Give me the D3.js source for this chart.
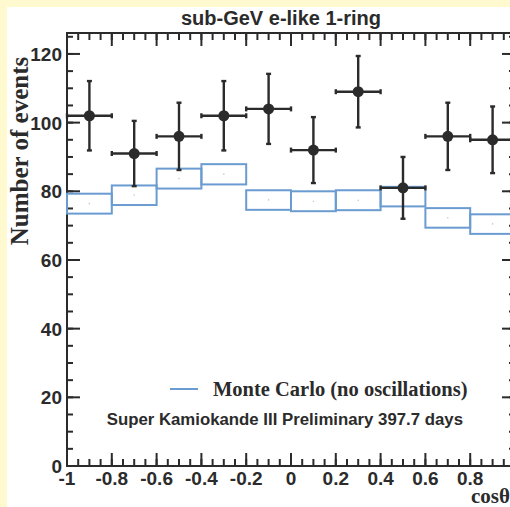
<!DOCTYPE html>
<html>
<head>
<meta charset="utf-8">
<script src="https://cdn.jsdelivr.net/npm/d3@7"></script>
<style>
  html, body { margin: 0; padding: 0; background: #fef9cf; }
  svg { display: block; }
</style>
</head>
<body>
<svg id="chart" width="510" height="507"></svg>
<script>
// bin edges in cos(theta)
var binEdges = [-1, -0.8, -0.6, -0.4, -0.2, 0, 0.2, 0.4, 0.6, 0.8, 1];
// observed events and their errors
var dataCounts = [102, 91, 96, 102, 104, 92, 109, 81, 96, 95];
var dataErrors = [10.1, 9.5, 9.8, 10.1, 10.2, 9.6, 10.4, 9.0, 9.8, 9.7];
// monte carlo band (no oscillations)
var mcUpper = [79.3, 81.7, 86.6, 87.9, 80.3, 80.0, 80.3, 81.3, 75.1, 73.3];
var mcLower = [73.5, 76.0, 80.8, 82.0, 74.6, 74.2, 74.5, 75.6, 69.4, 67.6];
var mcCentral = [76.4, 78.9, 83.7, 85.0, 77.5, 77.1, 77.4, 78.5, 72.3, 70.5];
// tick labels
var xTicks = [-1, -0.8, -0.6, -0.4, -0.2, 0, 0.2, 0.4, 0.6, 0.8, 1];
var yTicks = [0, 20, 40, 60, 80, 100, 120];

(function () {
    "use strict";

    var svg = d3.select("#chart");

    // white pad
    svg.append("rect")
        .attr("x", 7).attr("y", 7)
        .attr("width", 520).attr("height", 520)
        .attr("fill", "#ffffff");

    var pLeft = 67, pRight = 515, pTop = 33, pBottom = 466;
    var x = d3.scaleLinear().domain([-1, 1]).range([pLeft, pRight]);
    var y = d3.scaleLinear().domain([0, 126.1]).range([pBottom, pTop]);

    var ink = "#2b2b2b";
    var blue = "#6a9bd1";
    var sans = "Liberation Sans, Arial, sans-serif";
    var serif = "Liberation Serif, Times New Roman, serif";

    // minor tick values
    var xMinor = d3.range(-1, 1.0001, 0.05);
    var yMinor = d3.range(0, 126, 5);

    function tickLines(g, vals, len, orient) {
        var horiz = orient == "b" || orient == "t";
        g.append("g").selectAll("line")
            .data(vals)
            .enter()
            .append("line")
            .attr("stroke", ink)
            .attr("stroke-width", 2)
            .attr("x1", function (d) { return horiz ? x(d) : (orient == "l" ? pLeft : pRight); })
            .attr("x2", function (d) { return horiz ? x(d) : (orient == "l" ? pLeft + len : pRight - len); })
            .attr("y1", function (d) { return !horiz ? y(d) : (orient == "b" ? pBottom : pTop); })
            .attr("y2", function (d) { return !horiz ? y(d) : (orient == "b" ? pBottom - len : pTop + len); });
    }

    var axes = svg.append("g");
    tickLines(axes, xMinor, 7, "b");
    tickLines(axes, xTicks, 13, "b");
    tickLines(axes, xMinor, 7, "t");
    tickLines(axes, xTicks, 13, "t");
    tickLines(axes, yMinor, 6, "l");
    tickLines(axes, yTicks, 13, "l");
    tickLines(axes, yMinor, 6, "r");
    tickLines(axes, yTicks, 13, "r");

    // frame
    axes.append("rect")
        .attr("x", pLeft).attr("y", pTop)
        .attr("width", pRight - pLeft).attr("height", pBottom - pTop)
        .attr("fill", "none")
        .attr("stroke", ink)
        .attr("stroke-width", 2);

    // tick labels
    svg.append("g").selectAll("text")
        .data(xTicks)
        .enter()
        .append("text")
        .attr("x", function (d) { return x(d); })
        .attr("y", 485)
        .attr("text-anchor", "middle")
        .attr("font-family", sans)
        .attr("font-weight", "bold")
        .attr("font-size", 19)
        .attr("fill", ink)
        .text(function (d) { return String(+d.toFixed(1)); });

    svg.append("g").selectAll("text")
        .data(yTicks)
        .enter()
        .append("text")
        .attr("x", 62)
        .attr("y", function (d) { return y(d) + 7; })
        .attr("text-anchor", "end")
        .attr("font-family", sans)
        .attr("font-weight", "bold")
        .attr("font-size", 19)
        .attr("fill", ink)
        .text(function (d) { return d; });

    // monte carlo boxes
    var bins = d3.range(dataCounts.length);
    svg.append("g").selectAll("rect")
        .data(bins)
        .enter()
        .append("rect")
        .attr("x", function (i) { return x(binEdges[i]); })
        .attr("y", function (i) { return y(mcUpper[i]); })
        .attr("width", function (i) { return x(binEdges[i + 1]) - x(binEdges[i]); })
        .attr("height", function (i) { return y(mcLower[i]) - y(mcUpper[i]); })
        .attr("fill", "none")
        .attr("stroke", blue)
        .attr("stroke-width", 2);

    svg.append("g").selectAll("circle")
        .data(bins)
        .enter()
        .append("circle")
        .attr("cx", function (i) { return x((binEdges[i] + binEdges[i + 1]) / 2); })
        .attr("cy", function (i) { return y(mcCentral[i]); })
        .attr("r", 0.8)
        .attr("fill", "#c8c8c8");

    // data points with errors
    var pts = svg.append("g");
    bins.forEach(function (i) {
        var cx = x((binEdges[i] + binEdges[i + 1]) / 2);
        var x0 = x(binEdges[i]), x1 = x(binEdges[i + 1]);
        var yc = y(dataCounts[i]);
        var yt = y(dataCounts[i] + dataErrors[i]), yb = y(dataCounts[i] - dataErrors[i]);
        function ln(a, b, c, d) {
            pts.append("line").attr("x1", a).attr("y1", b).attr("x2", c).attr("y2", d)
                .attr("stroke", ink).attr("stroke-width", 2.4);
        }
        ln(x0, yc, x1, yc);
        ln(cx, yt, cx, yb);
        ln(x0, yc - 2.5, x0, yc + 2.5);
        ln(x1, yc - 2.5, x1, yc + 2.5);
        ln(cx - 2.5, yt, cx + 2.5, yt);
        ln(cx - 2.5, yb, cx + 2.5, yb);
        pts.append("circle").attr("cx", cx).attr("cy", yc).attr("r", 5.5).attr("fill", ink);
    });

    // title
    svg.append("text")
        .attr("x", 281).attr("y", 25)
        .attr("text-anchor", "middle")
        .attr("font-family", sans)
        .attr("font-weight", "bold")
        .attr("font-size", 20)
        .attr("fill", ink)
        .text("sub-GeV e-like 1-ring");

    // axis titles
    svg.append("text")
        .attr("transform", "translate(28,151) rotate(-90)")
        .attr("text-anchor", "middle")
        .attr("font-family", serif)
        .attr("font-weight", "bold")
        .attr("font-size", 25)
        .attr("fill", ink)
        .text("Number of events");

    svg.append("text")
        .attr("x", 510).attr("y", 503)
        .attr("text-anchor", "end")
        .attr("font-family", serif)
        .attr("font-weight", "bold")
        .attr("font-size", 21)
        .attr("fill", ink)
        .text("cosθ");

    // legend
    svg.append("line")
        .attr("x1", 170).attr("x2", 198)
        .attr("y1", 389).attr("y2", 389)
        .attr("stroke", blue)
        .attr("stroke-width", 2);

    svg.append("text")
        .attr("x", 213).attr("y", 396)
        .attr("font-family", serif)
        .attr("font-weight", "bold")
        .attr("font-size", 20.5)
        .attr("fill", ink)
        .text("Monte Carlo (no oscillations)");

    svg.append("text")
        .attr("x", 463).attr("y", 425)
        .attr("text-anchor", "end")
        .attr("font-family", sans)
        .attr("font-weight", "bold")
        .attr("font-size", 16.8)
        .attr("fill", ink)
        .text("Super Kamiokande III Preliminary 397.7 days");
})();
</script>
</body>
</html>
